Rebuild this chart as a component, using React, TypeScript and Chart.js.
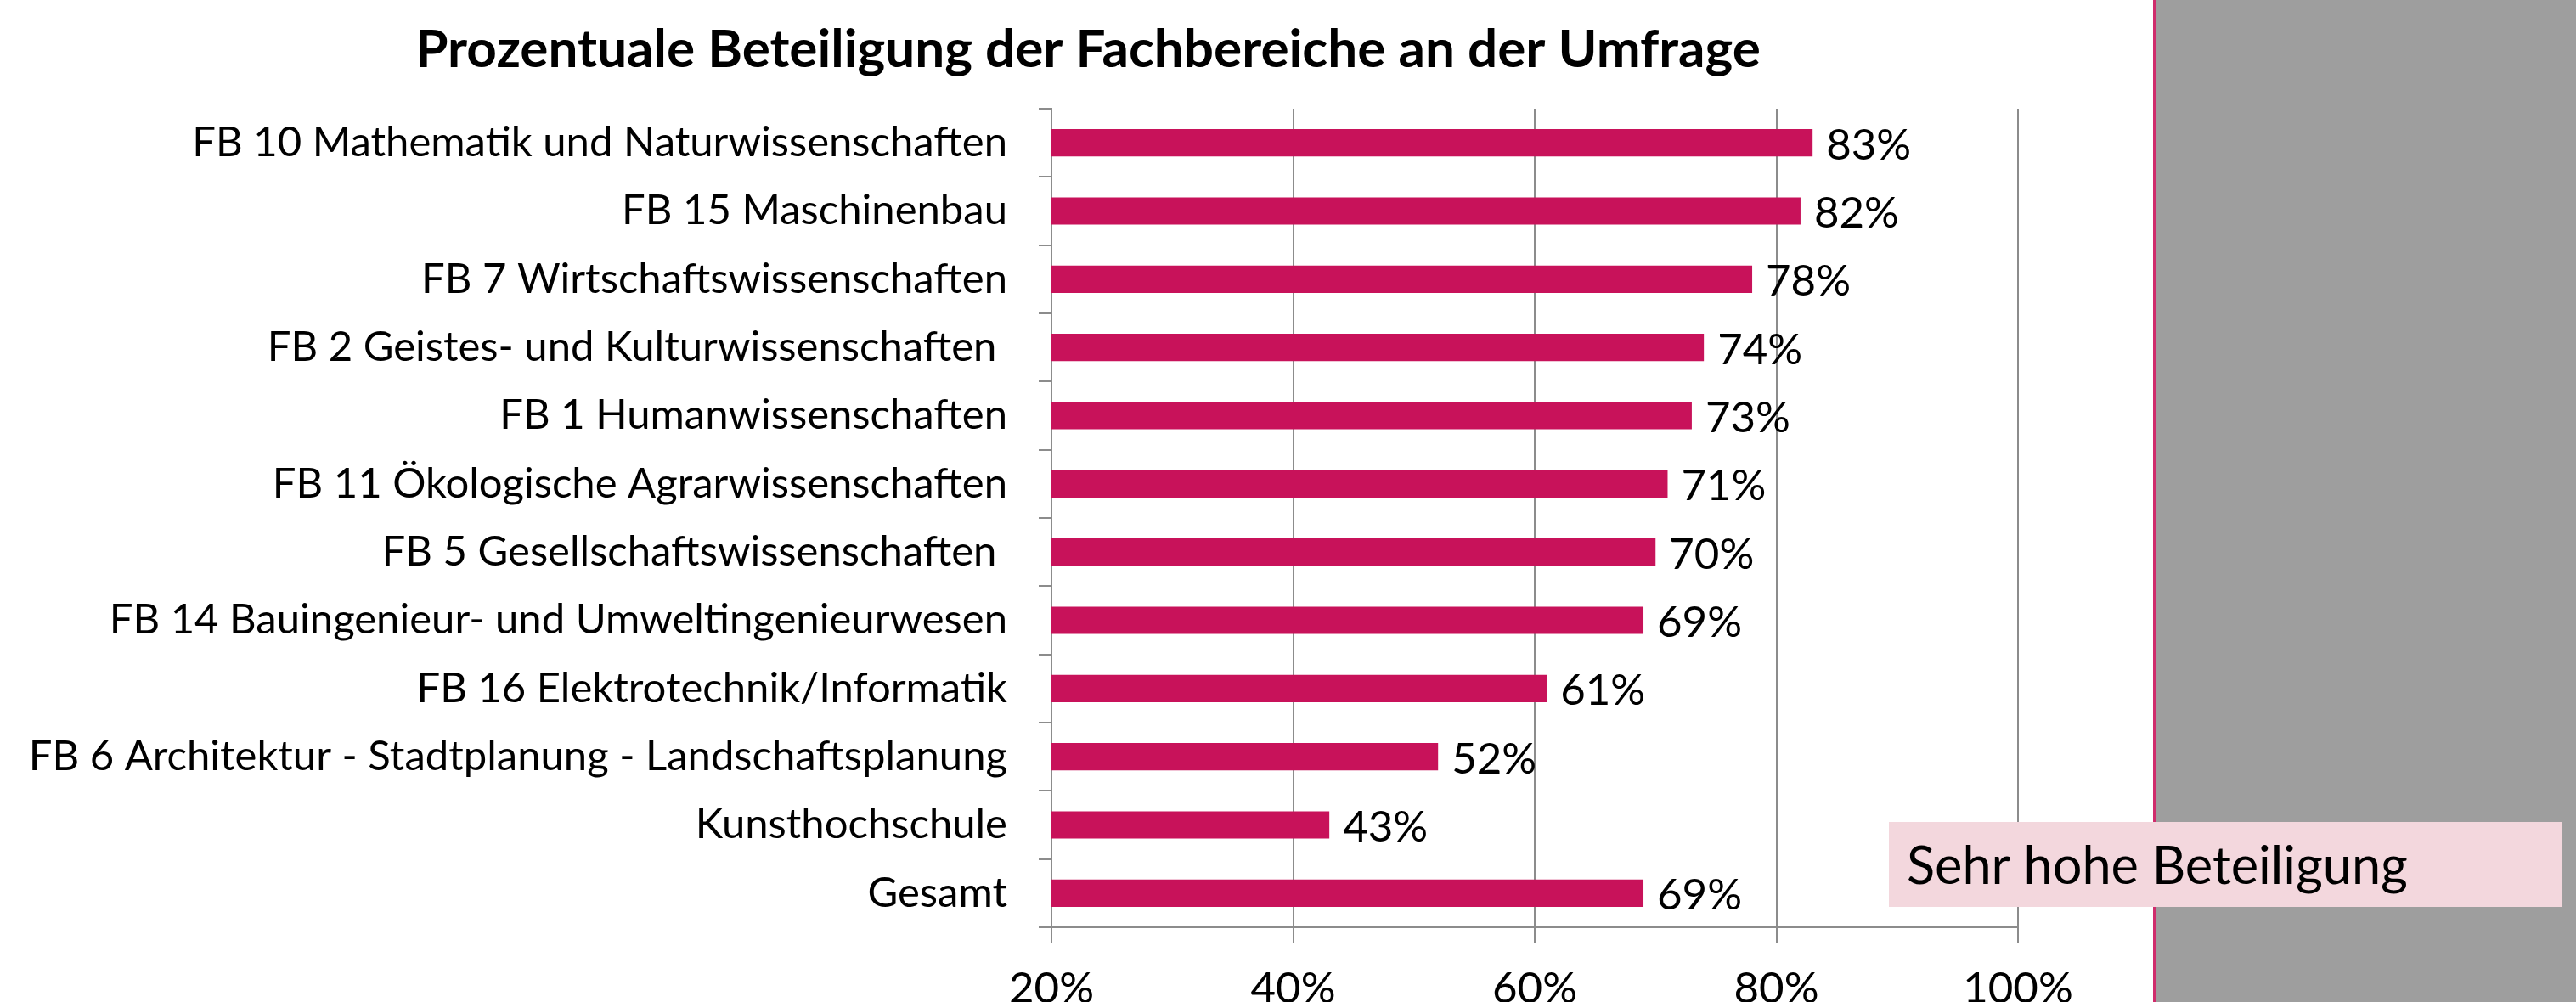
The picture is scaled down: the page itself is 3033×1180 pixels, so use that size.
import React, { useEffect, useRef } from 'react';
import { Chart, registerables } from 'chart.js';

Chart.register(...registerables);

const categories = [
  'FB 10 Mathematik und Naturwissenschaften',
  'FB 15 Maschinenbau',
  'FB 7 Wirtschaftswissenschaften',
  'FB 2 Geistes- und Kulturwissenschaften ',
  'FB 1 Humanwissenschaften',
  'FB 11 Ökologische Agrarwissenschaften',
  'FB 5 Gesellschaftswissenschaften ',
  'FB 14 Bauingenieur- und Umweltingenieurwesen',
  'FB 16 Elektrotechnik/Informatik',
  'FB 6 Architektur - Stadtplanung - Landschaftsplanung',
  'Kunsthochschule',
  'Gesamt',
];
const participation = [83, 82, 78, 74, 73, 71, 70, 69, 61, 52, 43, 69];
const xTickValues = [20, 40, 60, 80, 100];
const chartTitle = 'Prozentuale Beteiligung der Fachbereiche an der Umfrage';
const noteText = 'Sehr hohe Beteiligung';

const FAMILY = 'Lato, "Open Sans", "Noto Sans", sans-serif';

function fitSize(text: string, weight: string, target: number): number {
  const ctx = document.createElement('canvas').getContext('2d')!;
  ctx.font = `${weight} 100px ${FAMILY}`;
  return (100 * target) / ctx.measureText(text).width;
}

export default function App() {
  const ref = useRef<HTMLCanvasElement | null>(null);

  useEffect(() => {
    const canvas = ref.current;
    if (!canvas) return;

    const labelSize = fitSize(categories[0], 'normal', 960);
    const tickSize = labelSize * 1.04;
    const titleSize = fitSize(chartTitle, 'bold', 1584);
    const noteSize = fitSize(noteText, 'normal', 590);

    const decor = {
      id: 'decor',
      beforeDraw(chart: any) {
        const ctx = chart.ctx;
        ctx.save();
        ctx.fillStyle = '#ffffff';
        ctx.fillRect(0, 0, chart.width, chart.height);
        ctx.fillStyle = '#9E9E9E';
        ctx.fillRect(2538, 0, chart.width - 2538, chart.height);
        ctx.fillStyle = '#D02C6C';
        ctx.fillRect(2535, 0, 3, chart.height);
        ctx.restore();
      },
      afterDatasetsDraw(chart: any) {
        const ctx = chart.ctx;
        const meta = chart.getDatasetMeta(0);
        ctx.save();
        ctx.fillStyle = '#000000';
        ctx.font = `normal ${tickSize}px ${FAMILY}`;
        ctx.textAlign = 'left';
        ctx.textBaseline = 'middle';
        meta.data.forEach((bar: any, i: number) => {
          ctx.fillText(participation[i] + '%', bar.x + 16, bar.y + 3);
        });
        ctx.restore();
      },
      afterDraw(chart: any) {
        const ctx = chart.ctx;
        ctx.save();
        ctx.fillStyle = '#000000';
        ctx.font = `bold ${titleSize}px ${FAMILY}`;
        ctx.textAlign = 'center';
        ctx.textBaseline = 'alphabetic';
        ctx.fillText(chartTitle, 1281, 79);

        ctx.fillStyle = '#F3D7DD';
        ctx.fillRect(2224, 968, 792, 100);
        ctx.fillStyle = '#000000';
        ctx.font = `normal ${noteSize}px ${FAMILY}`;
        ctx.textAlign = 'left';
        ctx.fillText(noteText, 2245, 1041);
        ctx.restore();
      },
    };

    const chart = new Chart(canvas, {
      type: 'bar',
      data: {
        labels: categories,
        datasets: [
          {
            data: participation,
            backgroundColor: '#C8125A',
            borderWidth: 0,
            barPercentage: 0.4,
            categoryPercentage: 1,
          },
        ],
      },
      options: {
        indexAxis: 'y',
        animation: false,
        responsive: true,
        maintainAspectRatio: false,
        devicePixelRatio: 1,
        layout: { padding: { top: 128, right: 657, left: 0, bottom: 0 } },
        plugins: {
          legend: { display: false },
          tooltip: { enabled: false },
          title: { display: false },
        },
        scales: {
          x: {
            type: 'linear',
            position: 'bottom',
            min: 20,
            max: 100,
            afterBuildTicks: (s: any) => {
              s.ticks = xTickValues.map((v) => ({ value: v }));
            },
            afterFit: (s: any) => {
              s.height = 88;
            },
            ticks: {
              callback: (v: any) => v + '%',
              font: { family: FAMILY, size: tickSize },
              color: '#000000',
              padding: 24,
              maxRotation: 0,
            },
            grid: { color: '#8C8C8C', lineWidth: 2, tickLength: 18, drawTicks: true },
            border: { color: '#8C8C8C', width: 2 },
          },
          y: {
            type: 'category',
            afterFit: (s: any) => {
              s.width = 1238;
            },
            ticks: {
              font: { family: FAMILY, size: labelSize },
              color: '#000000',
              padding: 37,
              autoSkip: false,
            },
            grid: {
              offset: true,
              drawOnChartArea: false,
              color: '#8C8C8C',
              lineWidth: 2,
              tickLength: 15,
            },
            border: { color: '#8C8C8C', width: 2 },
          },
        },
      } as any,
      plugins: [decor],
    });

    return () => chart.destroy();
  }, []);

  return (
    <div style={{ position: 'absolute', left: 0, top: 0, width: 3033, height: 1180 }}>
      <canvas ref={ref} />
    </div>
  );
}
